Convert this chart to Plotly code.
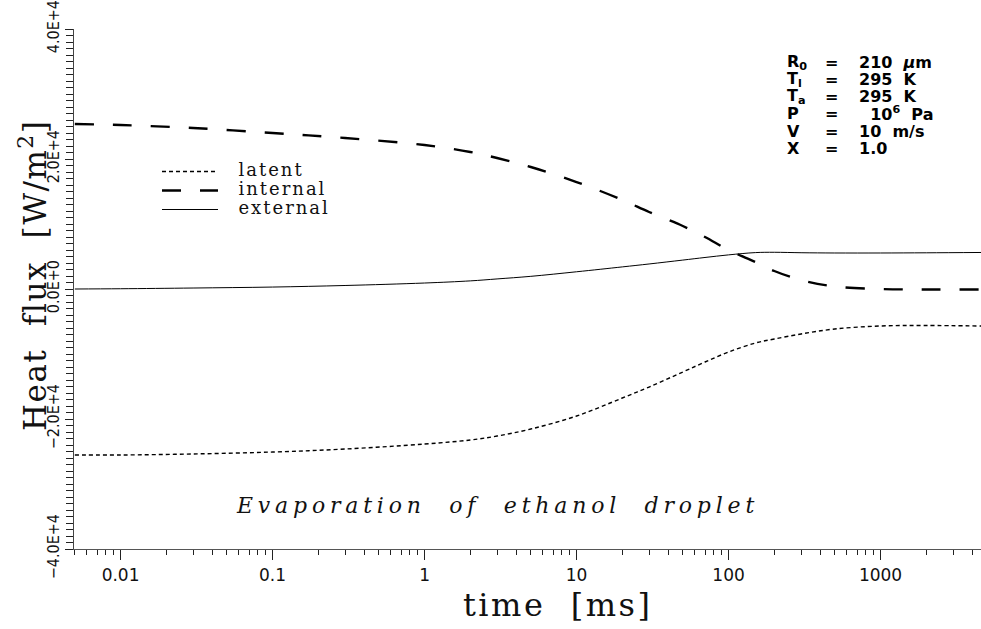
import plotly.graph_objects as go
import math

# ---- data ----
time_ms = [0.005, 0.01, 0.03, 0.1, 0.3, 1, 2, 3, 5, 10, 20, 30, 50, 70,
           100, 150, 200, 300, 500, 1000, 2000, 4600]
latent = [-25540, -25540, -25380, -25080, -24620, -23850, -23230, -22620,
          -21540, -19540, -16770, -15080, -12770, -11230, -9690, -8310,
          -7690, -6920, -6150, -5690, -5620, -5690]
internal = [25385, 25230, 24770, 24000, 23230, 22150, 21080, 20150, 18770,
            16460, 13700, 11850, 9690, 8000, 6000, 4150, 2770, 1380, 380,
            0, -80, -80]
external = [0, 40, 150, 300, 540, 920, 1250, 1550, 1950, 2650, 3400, 3850,
            4450, 4850, 5250, 5600, 5650, 5580, 5540, 5540, 5570, 5620]

x_tick_vals = [0.01, 0.1, 1, 10, 100, 1000]
x_tick_text = ["0.01", "0.1", "1", "10", "100", "1000"]
y_tick_vals = [-40000, -20000, 0, 20000, 40000]
y_tick_text = ["\u22124.0E+4", "\u22122.0E+4", "0.0E+0", "2.0E+4", "4.0E+4"]

legend_names = ["latent", "internal", "external"]

param_names = ["R<sub>0</sub>", "T<sub>l</sub>", "T<sub>a</sub>", "P", "V", "X"]
param_values = ["210\u00a0\u00a0<i>\u03bc</i>m", "295\u00a0\u00a0K", "295\u00a0\u00a0K",
                "\u00a0\u00a010<sup>6</sup>\u00a0\u00a0Pa", "10\u00a0\u00a0m/s", "1.0"]

W, H = 981, 629
ml, mr, mt, mb = 74, 0, 29, 80
pw, ph = W - ml - mr, H - mt - mb

def px(xp):
    return (xp - ml) / pw

def py(yp):
    return (H - mb - yp) / ph

def leg(name):
    return '<span style="font-size:18px;letter-spacing:2px">\u00a0\u00a0' + name + '</span>'

fig = go.Figure()
fig.add_trace(go.Scatter(x=time_ms, y=latent, name=leg(legend_names[0]), mode="lines",
                         line=dict(color="black", width=1.4, dash="4px,3px", shape="spline")))
fig.add_trace(go.Scatter(x=time_ms, y=internal, name=leg(legend_names[1]), mode="lines",
                         line=dict(color="black", width=2.4, dash="19px,19px", shape="spline")))
fig.add_trace(go.Scatter(x=time_ms, y=external, name=leg(legend_names[2]), mode="lines",
                         line=dict(color="black", width=1, shape="spline")))

minor_x = [m * 10 ** k for k in range(-3, 4) for m in range(2, 10)]

fig.update_xaxes(type="log", range=[math.log10(0.00494), math.log10(4580)],
                 showline=True, linecolor="#555", linewidth=1.2,
                 showgrid=False, zeroline=False,
                 ticks="outside", ticklen=10, tickcolor="#222", tickwidth=1,
                 tickvals=x_tick_vals, ticktext=x_tick_text,
                 tickfont=dict(family="DejaVu Sans", size=17, color="#111"),
                 minor=dict(tickvals=minor_x, ticks="outside", ticklen=5,
                            tickcolor="#222", showgrid=False))
fig.update_yaxes(range=[-40000, 40000], showline=True, linecolor="#444", linewidth=1.2,
                 showgrid=False, zeroline=False,
                 ticks="outside", ticklen=8, tickcolor="#222",
                 tickvals=y_tick_vals, ticktext=y_tick_text, tickangle=-90,
                 ticklabeloverflow="allow",
                 tickfont=dict(family="Liberation Sans Narrow, DejaVu Sans Condensed, Liberation Sans",
                               size=16, color="#111"),
                 minor=dict(dtick=1000, ticks="outside", ticklen=7,
                            tickcolor="#222", showgrid=False))

ann = []
ann.append(dict(text='<span style="letter-spacing:2.5px">time\u00a0\u00a0[ms]</span>',
                x=px(557), y=py(605), xref="paper", yref="paper",
                showarrow=False, xanchor="center", yanchor="middle",
                font=dict(family="DejaVu Serif", size=32, color="#111")))
ann.append(dict(text='<span style="letter-spacing:1.5px">Heat\u00a0\u00a0flux\u00a0\u00a0[W/m<sup>2</sup>]</span>',
                x=px(33), y=py(276),
                xref="paper", yref="paper", textangle=-90,
                showarrow=False, xanchor="center", yanchor="middle",
                font=dict(family="DejaVu Serif", size=31, color="#111")))
ann.append(dict(text='<span style="letter-spacing:4.8px">Evaporation\u00a0\u00a0of\u00a0\u00a0ethanol\u00a0\u00a0droplet</span>',
                x=px(497), y=py(505), xref="paper", yref="paper",
                showarrow=False, xanchor="center", yanchor="middle",
                font=dict(family="DejaVu Serif", size=22, color="#111", style="italic")))
line_y = [62, 79.5, 96.5, 113.5, 131.5, 149]
for name, val, yy in zip(param_names, param_values, line_y):
    ann.append(dict(text="<b>" + name + "</b>", x=px(785), y=py(yy), xref="paper", yref="paper",
                    showarrow=False, xanchor="left", yanchor="middle",
                    font=dict(family="DejaVu Sans", size=16, color="black")))
    ann.append(dict(text="<b>=</b>", x=px(831), y=py(yy), xref="paper", yref="paper",
                    showarrow=False, xanchor="center", yanchor="middle",
                    font=dict(family="DejaVu Sans", size=16, color="black")))
    ann.append(dict(text="<b>" + val + "</b>", x=px(857), y=py(yy), xref="paper", yref="paper",
                    showarrow=False, xanchor="left", yanchor="middle",
                    font=dict(family="DejaVu Sans", size=16, color="black")))

fig.update_layout(
    width=W, height=H,
    margin=dict(l=ml, r=mr, t=mt, b=mb),
    paper_bgcolor="white", plot_bgcolor="white",
    showlegend=True,
    legend=dict(x=px(157), y=py(157), xanchor="left", yanchor="top",
                bgcolor="rgba(0,0,0,0)", itemwidth=56, tracegroupgap=0,
                font=dict(family="DejaVu Serif", size=12, color="#111")),
    annotations=ann,
)

fig.write_html("out.html")
